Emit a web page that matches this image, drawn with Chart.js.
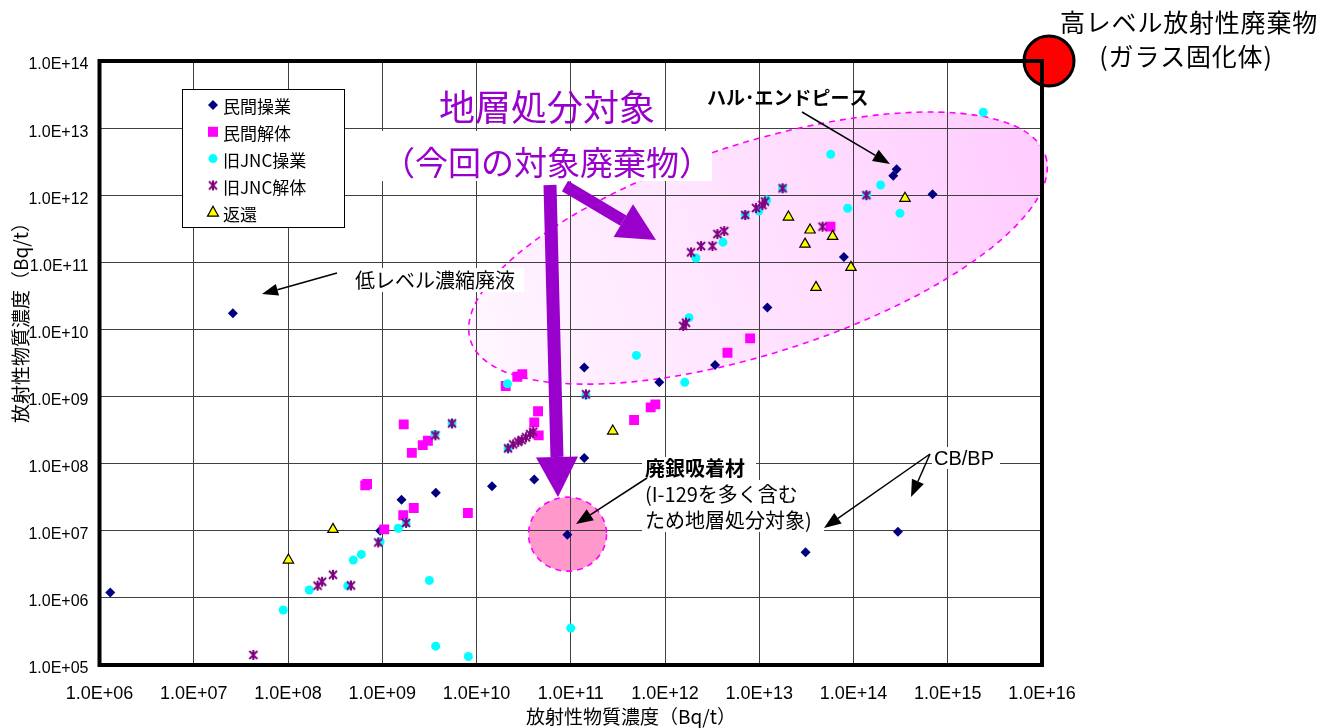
<!DOCTYPE html>
<html><head><meta charset="utf-8">
<script src="https://cdn.jsdelivr.net/npm/chart.js@4/dist/chart.umd.min.js"></script>
<style>html,body{margin:0;padding:0;background:#fff;}canvas{display:block;}</style>
</head><body>
<canvas id="c" width="1321" height="728"></canvas>
<script>
// ---------------- data ----------------
const seriesNames = ['民間操業','民間解体','旧JNC操業','旧JNC解体','返還'];
const xTickLabels = ['1.0E+06','1.0E+07','1.0E+08','1.0E+09','1.0E+10','1.0E+11','1.0E+12','1.0E+13','1.0E+14','1.0E+15','1.0E+16'];
const yTickLabels = ['1.0E+05','1.0E+06','1.0E+07','1.0E+08','1.0E+09','1.0E+10','1.0E+11','1.0E+12','1.0E+13','1.0E+14'];

const minkanSogyoX = [1.3e6, 2.6e7, 9.5e8, 1.6e9, 3.7e9, 1.46e10, 4.1e10, 9.2e10, 1.39e11, 1.39e11, 8.7e11, 3.4e12, 1.22e13, 7.9e13, 2.64e14, 2.87e14, 6.9e14, 3.1e13, 2.96e14];
const minkanSogyoY = [1.2e6, 1.75e10, 1.0e7, 2.9e7, 3.7e7, 4.6e7, 5.8e7, 8.7e6, 1.21e8, 2.72e9, 1.63e9, 2.94e9, 2.13e10, 1.2e11, 1.95e12, 2.43e12, 1.03e12, 4.77e6, 9.66e6];

const minkanKaitaiX = [6.6e8, 6.9e8, 1.05e9, 1.67e9, 1.69e9, 2.06e9, 2.16e9, 2.69e9, 3.05e9, 8.1e9, 2.04e10, 2.71e10, 3.06e10, 4.1e10, 4.5e10, 4.57e10, 4.7e11, 7.05e11, 7.9e11, 4.6e12, 8.0e12, 5.7e13];
const minkanKaitaiY = [4.75e7, 4.97e7, 1.05e7, 1.7e7, 3.85e8, 1.45e8, 2.18e7, 1.89e8, 2.19e8, 1.84e7, 1.44e9, 1.97e9, 2.16e9, 4.12e8, 6.03e8, 2.64e8, 4.47e8, 6.9e8, 7.66e8, 4.5e9, 7.36e9, 3.4e11];

const jncSogyoX = [8.9e7, 1.68e8, 4.3e8, 4.93e8, 6.0e8, 9.5e8, 1.48e9, 1.79e9, 3.16e9, 3.69e9, 8.2e9, 1.0e11, 3.63e9, 5.5e9, 2.16e10, 2.13e10, 1.45e11, 4.97e11, 1.62e12, 1.8e12, 2.13e12, 4.12e12, 7.1e12, 9.9e12, 1.2e13, 1.77e13, 5.73e13, 8.67e13, 1.38e14, 1.94e14, 3.11e14, 2.38e15];
const jncSogyoY = [6.6e5, 1.31e6, 1.51e6, 3.66e6, 4.45e6, 6.86e6, 1.09e7, 1.31e7, 1.82e6, 1.91e5, 1.34e5, 3.55e5, 2.73e8, 3.98e8, 1.69e8, 1.55e9, 1.05e9, 4.1e9, 1.63e9, 1.5e10, 1.16e11, 2.0e11, 5.07e11, 5.8e11, 8.5e11, 1.27e12, 4.07e12, 6.4e11, 1.0e12, 1.42e12, 5.37e11, 1.72e13];

const jncKaitaiX = [4.29e7, 2.06e8, 2.3e8, 3.0e8, 4.66e8, 9.06e8, 1.79e9, 3.66e9, 5.5e9, 2.16e10, 2.45e10, 2.77e10, 3.02e10, 3.35e10, 3.7e10, 4.0e10, 1.45e11, 1.56e12, 1.67e12, 1.89e12, 2.41e12, 3.19e12, 3.6e12, 4.25e12, 7.1e12, 9.24e12, 1.08e13, 1.15e13, 1.77e13, 4.69e13, 1.37e14];
const jncKaitaiY = [1.41e5, 1.52e6, 1.74e6, 2.21e6, 1.53e6, 6.7e6, 1.31e7, 2.64e8, 3.98e8, 1.69e8, 1.94e8, 2.12e8, 2.25e8, 2.47e8, 2.76e8, 2.99e8, 1.08e9, 1.13e10, 1.26e10, 1.41e11, 1.75e11, 1.75e11, 2.64e11, 2.93e11, 5.07e11, 6.45e11, 7.14e11, 8.05e11, 1.27e12, 3.4e11, 1.0e12];

const henkanX = [1.01e8, 3.0e8, 2.79e11, 2.04e13, 3.06e13, 3.46e13, 4.0e13, 6.0e13, 9.4e13, 3.52e14];
const henkanY = [3.66e6, 1.05e7, 3.06e8, 4.73e11, 1.87e11, 3.03e11, 4.24e10, 2.44e11, 8.4e10, 9.0e11];

// ---------------- helpers ----------------
const FONT_CJK = "'Noto Sans CJK JP', sans-serif";
const FONT_NUM = "'Liberation Sans', Arial, sans-serif";
const PURPLE = '#9900CC';
function toPts(xs, ys){ return xs.map((x,i)=>({x:x, y:ys[i]})); }

function makeStar(color){
  const s = 12, c = document.createElement('canvas');
  c.width = s; c.height = s;
  const g = c.getContext('2d');
  g.strokeStyle = color; g.lineWidth = 2;
  g.beginPath();
  g.moveTo(2,2); g.lineTo(10,10);
  g.moveTo(10,2); g.lineTo(2,10);
  g.moveTo(6,1); g.lineTo(6,11);
  g.stroke();
  return c;
}
const starImg = makeStar('#800080');

function arrow(ctx, x1,y1,x2,y2, lw, hl, hw, color){
  const a = Math.atan2(y2-y1, x2-x1);
  const bx = x2 - hl*Math.cos(a), by = y2 - hl*Math.sin(a);
  ctx.save();
  ctx.strokeStyle = color; ctx.fillStyle = color; ctx.lineWidth = lw;
  ctx.beginPath(); ctx.moveTo(x1,y1); ctx.lineTo(bx,by); ctx.stroke();
  ctx.beginPath(); ctx.moveTo(x2,y2);
  ctx.lineTo(bx + hw/2*Math.sin(a), by - hw/2*Math.cos(a));
  ctx.lineTo(bx - hw/2*Math.sin(a), by + hw/2*Math.cos(a));
  ctx.closePath(); ctx.fill();
  ctx.restore();
}

function drawMarker(ctx, kind, x, y){
  ctx.save();
  if (kind === 0){ ctx.fillStyle='#000080'; ctx.beginPath(); ctx.moveTo(x,y-5); ctx.lineTo(x+5,y); ctx.lineTo(x,y+5); ctx.lineTo(x-5,y); ctx.closePath(); ctx.fill(); }
  else if (kind === 1){ ctx.fillStyle='#FF00FF'; ctx.fillRect(x-5,y-5,10,10); }
  else if (kind === 2){ ctx.fillStyle='#00FFFF'; ctx.beginPath(); ctx.arc(x,y,4.5,0,Math.PI*2); ctx.fill(); }
  else if (kind === 3){ ctx.drawImage(starImg, x-6, y-6); }
  else { ctx.fillStyle='#FFFF00'; ctx.strokeStyle='#000'; ctx.lineWidth=1.2; ctx.beginPath(); ctx.moveTo(x,y-6); ctx.lineTo(x+5.5,y+4); ctx.lineTo(x-5.5,y+4); ctx.closePath(); ctx.fill(); ctx.stroke(); }
  ctx.restore();
}

// annotation anchors (data space)
const bigEllipseCenter = { x: 9.7e12, y: 1.63e11 };
const smallCircleCenter = { x: 9.25e10, y: 8.9e6 };

// ---------------- annotation plugin ----------------
const annot = {
  id: 'annot',
  beforeDraw(chart){
    const ctx = chart.ctx, x = chart.scales.x, y = chart.scales.y;
    ctx.save();
    const ecx = x.getPixelForValue(bigEllipseCenter.x), ecy = y.getPixelForValue(bigEllipseCenter.y);
    ctx.translate(ecx, ecy); ctx.rotate(-17.8*Math.PI/180);
    const g = ctx.createLinearGradient(-302, 0, 302, 0);
    g.addColorStop(0, '#FFF6FF'); g.addColorStop(1, '#FFCCFF');
    ctx.fillStyle = g;
    ctx.beginPath(); ctx.ellipse(0,0,302,105,0,0,Math.PI*2); ctx.fill();
    ctx.restore();
    ctx.save();
    const scx = x.getPixelForValue(smallCircleCenter.x), scy = y.getPixelForValue(smallCircleCenter.y);
    ctx.fillStyle = '#FF99CC';
    ctx.beginPath(); ctx.ellipse(scx, scy, 39, 37, 0, 0, Math.PI*2); ctx.fill();
    ctx.restore();
  },
  beforeDatasetsDraw(chart){
    const ctx = chart.ctx, x = chart.scales.x, y = chart.scales.y;
    ctx.save();
    ctx.strokeStyle = '#FF00FF'; ctx.lineWidth = 1.6; ctx.setLineDash([6,5]);
    const ecx = x.getPixelForValue(bigEllipseCenter.x), ecy = y.getPixelForValue(bigEllipseCenter.y);
    ctx.beginPath(); ctx.ellipse(ecx, ecy, 302, 105, -17.8*Math.PI/180, 0, Math.PI*2); ctx.stroke();
    const scx = x.getPixelForValue(smallCircleCenter.x), scy = y.getPixelForValue(smallCircleCenter.y);
    ctx.beginPath(); ctx.ellipse(scx, scy, 39, 37, 0, 0, Math.PI*2); ctx.stroke();
    ctx.restore();
  },
  afterDraw(chart){
    const ctx = chart.ctx, ca = chart.chartArea;
    ctx.save();
    // white text boxes
    ctx.fillStyle = '#fff';
    ctx.fillRect(380, 131, 332, 50);
    ctx.fillRect(353, 268, 171, 24);
    ctx.fillRect(642, 457, 114, 23);
    ctx.fillRect(642, 480, 182, 52);
    ctx.fillRect(932, 447, 68, 22);

    // purple arrows
    arrow(ctx, 550, 185, 558, 497, 13, 40, 42, PURPLE);
    arrow(ctx, 565, 186, 656, 240, 12, 38, 38, PURPLE);

    // purple titles
    ctx.fillStyle = PURPLE; ctx.textAlign = 'center'; ctx.textBaseline = 'middle';
    ctx.font = '36px ' + FONT_CJK;
    ctx.fillText('地層処分対象', 547, 107);
    ctx.font = '33px ' + FONT_CJK;
    ctx.fillText('（今回の対象廃棄物）', 547, 162);

    // black annotations
    ctx.fillStyle = '#000'; ctx.textAlign = 'left';
    ctx.font = 'bold 19px ' + FONT_CJK;
    ctx.fillText('ハル･エンドピース', 707, 98);
    arrow(ctx, 802, 112, 890, 164, 1.5, 17, 13, '#000');

    ctx.font = '20px ' + FONT_CJK;
    ctx.fillText('低レベル濃縮廃液', 355, 280);
    arrow(ctx, 337, 273, 262, 294, 1.5, 16, 12, '#000');

    ctx.font = 'bold 20px ' + FONT_CJK;
    ctx.fillText('廃銀吸着材', 645, 468);
    ctx.font = '20px ' + FONT_CJK;
    ctx.fillText('(I-129を多く含む', 645, 494);
    ctx.fillText('ため地層処分対象)', 645, 520);
    arrow(ctx, 647, 478, 576, 524, 1.5, 17, 13, '#000');

    ctx.font = '20px ' + FONT_NUM;
    ctx.fillText('CB/BP', 934, 459);
    arrow(ctx, 930, 454, 824, 528, 1.5, 17, 13, '#000');
    arrow(ctx, 930, 454, 911, 497, 1.5, 17, 13, '#000');

    // red circle (HLW)
    ctx.fillStyle = '#FF0000'; ctx.strokeStyle = '#000'; ctx.lineWidth = 3;
    ctx.beginPath(); ctx.arc(ca.right + 7, ca.top, 25, 0, Math.PI*2); ctx.fill(); ctx.stroke();

    // plot border
    ctx.strokeStyle = '#000'; ctx.lineWidth = 4;
    ctx.strokeRect(ca.left, ca.top, ca.right - ca.left, ca.bottom - ca.top);

    // HLW text
    ctx.fillStyle = '#000'; ctx.textAlign = 'center';
    ctx.font = '25px ' + FONT_CJK;
    ctx.letterSpacing = '0.8px';
    ctx.fillText('高レベル放射性廃棄物', 1189, 22);
    ctx.fillText('(ガラス固化体)', 1186, 56);
    ctx.letterSpacing = '0px';

    // legend box
    ctx.fillStyle = '#fff'; ctx.fillRect(182, 89, 162, 138);
    ctx.strokeStyle = '#000'; ctx.lineWidth = 1;
    ctx.strokeRect(182.5, 89.5, 162, 138);
    ctx.fillStyle = '#000'; ctx.textAlign = 'left';
    ctx.font = '17px ' + FONT_CJK;
    seriesNames.forEach((n, i) => {
      const ry = 107 + i*26.8;
      drawMarker(ctx, i, 213, ry - 2);
      ctx.fillText(n, 223, ry);
    });

    // axis titles
    ctx.font = '19px ' + FONT_CJK;
    ctx.textAlign = 'center';
    ctx.fillText('放射性物質濃度（Bq/t）', 631, 717);
    ctx.translate(21, 318); ctx.rotate(-Math.PI/2);
    ctx.fillText('放射性物質濃度（Bq/t）', 0, 0);
    ctx.restore();
  }
};

// ---------------- chart ----------------
const ds = (i, xs, ys, extra) => Object.assign({
  label: seriesNames[i], data: toPts(xs, ys), showLine: false
}, extra);

new Chart(document.getElementById('c'), {
  type: 'scatter',
  data: { datasets: [
    ds(0, minkanSogyoX, minkanSogyoY, { pointStyle:'rectRot', pointRadius:5, pointBackgroundColor:'#000080', pointBorderColor:'#000080', pointBorderWidth:0, order:5 }),
    ds(1, minkanKaitaiX, minkanKaitaiY, { pointStyle:'rect', pointRadius:7, pointBackgroundColor:'#FF00FF', pointBorderColor:'#FF00FF', pointBorderWidth:0, order:4 }),
    ds(2, jncSogyoX, jncSogyoY, { pointStyle:'circle', pointRadius:4.5, pointBackgroundColor:'#00FFFF', pointBorderColor:'#00FFFF', pointBorderWidth:0, order:3 }),
    ds(3, jncKaitaiX, jncKaitaiY, { pointStyle: starImg, pointRadius:6, order:2 }),
    ds(4, henkanX, henkanY, { pointStyle:'triangle', pointRadius:6, pointBackgroundColor:'#FFFF00', pointBorderColor:'#000000', pointBorderWidth:1.2, order:1 })
  ]},
  options: {
    responsive: false, animation: false, events: [],
    layout: { padding: { left: 0, top: 61, right: 279, bottom: 0 } },
    plugins: { legend: { display: false }, tooltip: { enabled: false } },
    scales: {
      x: {
        type: 'logarithmic', min: 1e6, max: 1e16,
        afterBuildTicks: s => { s.ticks = xTickLabels.map(l => ({ value: parseFloat(l) })); },
        afterFit: s => { s.height = 63; },
        ticks: { autoSkip: false, maxRotation: 0, padding: 18, color: '#000',
                 font: { family: FONT_NUM, size: 18 },
                 callback: (v, i) => xTickLabels[i] },
        grid: { color: '#404040', lineWidth: 1, drawTicks: false },
        border: { display: false }
      },
      y: {
        type: 'logarithmic', min: 1e5, max: 1e14,
        afterBuildTicks: s => { s.ticks = yTickLabels.map(l => ({ value: parseFloat(l) })); },
        afterFit: s => { s.width = 99.5; },
        ticks: { autoSkip: false, padding: 11, labelOffset: 4, color: '#000',
                 font: { family: FONT_NUM, size: 16 },
                 callback: (v, i) => yTickLabels[i] },
        grid: { color: '#404040', lineWidth: 1, drawTicks: false },
        border: { display: false }
      }
    }
  },
  plugins: [annot]
});
</script>
</body></html>
